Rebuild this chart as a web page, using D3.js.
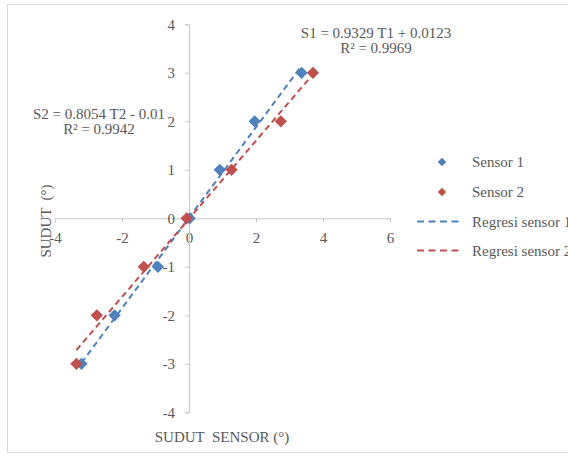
<!DOCTYPE html>
<html><head><meta charset="utf-8">
<script src="https://cdn.jsdelivr.net/npm/d3@7"></script>
<style>
html,body{margin:0;padding:0;background:#fff;}
svg text{font-family:"Liberation Serif","Times New Roman",serif;fill:#595959;}
</style></head>
<body>
<svg id="chart" width="568" height="457"></svg>
<script>
// ---- data ----
const sensor1X = [-3.21, -2.22, -0.93, 0.02, 0.92, 1.96, 3.36];
const sensor1Y = [-3, -2, -1, 0, 1, 2, 3];
const sensor2X = [-3.36, -2.75, -1.35, -0.07, 1.27, 2.74, 3.70];
const sensor2Y = [-3, -2, -1, 0, 1, 2, 3];
const fit1 = {slope: 0.9329, intercept: 0.0123};
const fit2 = {slope: 0.8054, intercept: -0.01};
const xTicks = [-4, -2, 0, 2, 4, 6];
const yTicks = [-4, -3, -2, -1, 0, 1, 2, 3, 4];
const eq1 = ["S1 = 0.9329 T1 + 0.0123", "R² = 0.9969"];
const eq2 = ["S2 = 0.8054 T2 - 0.01", "R² = 0.9942"];
const legendLabels = ["Sensor 1", "Sensor 2", "Regresi sensor 1", "Regresi sensor 2"];
const colors = ["#4F81BD", "#C0504D"];

const svg = d3.select("#chart");
svg.append("rect").attr("x", 7.5).attr("y", 4.5).attr("width", 575).attr("height", 448)
  .attr("fill", "#fff").attr("stroke", "#d9d9d9");

const x = d3.scaleLinear().domain([-4, 6]).range([55, 390]);
const y = d3.scaleLinear().domain([-4, 4]).range([412.3, 24.3]);

// x axis (crosses at y=0)
const xAxis = svg.append("g").attr("transform", `translate(0,${y(0)})`)
  .call(d3.axisBottom(x).tickValues(xTicks).tickSize(4).tickFormat(d3.format("d")));
xAxis.select(".domain").attr("stroke", "#c8c8c8");
xAxis.selectAll(".tick line").attr("stroke", "#c8c8c8");
xAxis.selectAll(".tick text").attr("font-size", 15).attr("dy", 0).attr("y", 25)
  .style("font-family", '"Liberation Serif",serif').attr("fill", "#595959")
  .text(d => d < 0 ? "-" + Math.abs(d) : d);

// y axis (crosses at x=0)
const yAxis = svg.append("g").attr("transform", `translate(${x(0)},0)`)
  .call(d3.axisLeft(y).tickValues(yTicks).tickSize(4).tickPadding(10).tickFormat(d3.format("d")));
yAxis.select(".domain").attr("stroke", "#c8c8c8");
yAxis.selectAll(".tick line").attr("stroke", "#c8c8c8");
yAxis.selectAll(".tick text").attr("font-size", 15)
  .style("font-family", '"Liberation Serif",serif').attr("fill", "#595959")
  .text(d => d < 0 ? "-" + Math.abs(d) : d);

// regression lines
const series = [
  {xs: sensor1X, ys: sensor1Y, fit: fit1, color: colors[0]},
  {xs: sensor2X, ys: sensor2Y, fit: fit2, color: colors[1]}
];
series.forEach(s => {
  const ext = d3.extent(s.xs);
  const pts = ext.map(v => [v, s.fit.slope * v + s.fit.intercept]);
  svg.append("path")
    .attr("d", d3.line().x(d => x(d[0])).y(d => y(d[1]))(pts))
    .attr("stroke", s.color).attr("stroke-width", 2).attr("stroke-dasharray", "6,4")
    .attr("fill", "none");
});

// points
const diamond = d3.symbol().type(d3.symbolSquare).size(76);
series.forEach(s => {
  svg.append("g").selectAll("path").data(s.xs.map((v, i) => [v, s.ys[i]])).join("path")
    .attr("d", diamond)
    .attr("transform", d => `translate(${x(d[0])},${y(d[1])}) rotate(45)`)
    .attr("fill", s.color);
});

// equation labels
function eqLabel(lines, cx, by) {
  const t = svg.append("text").attr("text-anchor", "middle").attr("font-size", 15);
  lines.forEach((l, i) => t.append("tspan").attr("x", cx).attr("y", by + i * 14.5).text(l));
}
eqLabel(eq1, 376, 38);
eqLabel(eq2, 99, 119);

// axis titles
svg.append("text").attr("x", 222).attr("y", 442).attr("text-anchor", "middle")
  .attr("font-size", 15).attr("xml:space", "preserve").text("SUDUT  SENSOR (°)");
svg.append("text").attr("transform", "translate(51,221) rotate(-90)")
  .attr("text-anchor", "middle").attr("font-size", 15).attr("xml:space", "preserve").text("SUDUT  (°)");

// legend
const lg = svg.append("g");
[0, 1].forEach(i => {
  lg.append("path").attr("d", d3.symbol().type(d3.symbolSquare).size(36))
    .attr("transform", `translate(442,${162 + i * 30}) rotate(45)`).attr("fill", colors[i]);
  lg.append("text").attr("x", 472).attr("y", 167 + i * 30).attr("font-size", 15).text(legendLabels[i]);
});
[0, 1].forEach(i => {
  const yy = 221.5 + i * 29;
  lg.append("line").attr("x1", 417).attr("x2", 463).attr("y1", yy).attr("y2", yy)
    .attr("stroke", colors[i]).attr("stroke-width", 2).attr("stroke-dasharray", "7,4.5");
  lg.append("text").attr("x", 472).attr("y", yy + 5).attr("font-size", 15).text(legendLabels[i + 2]);
});
</script>
</body></html>
